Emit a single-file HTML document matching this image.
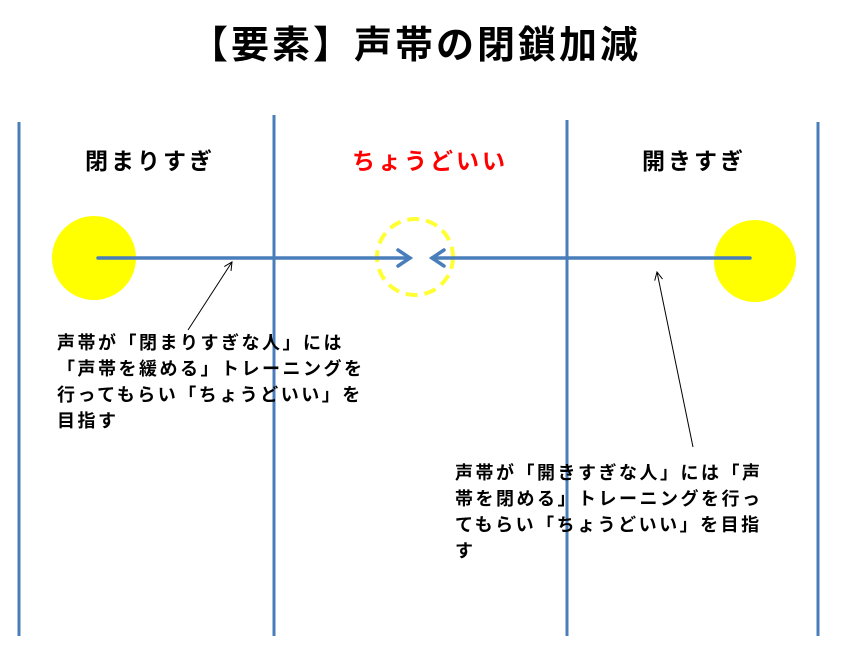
<!DOCTYPE html>
<html><head><meta charset="utf-8"><style>
body{margin:0;width:844px;height:661px;background:#fff;overflow:hidden;position:relative;font-family:"Liberation Sans","Noto Sans CJK JP",sans-serif;font-weight:bold;}
.t{position:absolute;white-space:nowrap;}
</style></head><body>
<svg width="844" height="661" style="position:absolute;left:0;top:0">
<defs>
<marker id="ah" markerWidth="10" markerHeight="10" refX="9" refY="5" orient="auto" markerUnits="userSpaceOnUse"><path d="M1,1 L9,5 L1,9" fill="none" stroke="#000" stroke-width="1"/></marker>
</defs>
<g stroke="#4a7ebb" stroke-width="3">
<line x1="19" y1="122" x2="19" y2="636"/>
<line x1="274" y1="115" x2="274" y2="636"/>
<line x1="567" y1="120" x2="567" y2="636"/>
<line x1="818" y1="122" x2="818" y2="636"/>
</g>
<ellipse cx="94" cy="258" rx="42" ry="42" fill="#ffff00"/>
<ellipse cx="755" cy="261" rx="41" ry="41" fill="#ffff00"/>
<circle cx="415" cy="257" r="38" fill="none" stroke="#ffff33" stroke-width="4" stroke-dasharray="12,7"/>
<g stroke="#4a7ebb" stroke-width="3.5" fill="none" stroke-linecap="round">
<line x1="98" y1="258" x2="410" y2="258"/>
<polyline points="398,250 410,258 398,266"/>
<line x1="432" y1="258" x2="750" y2="258"/>
<polyline points="444,250 432,258 444,266"/>
</g>
<line x1="188" y1="330" x2="232" y2="262" stroke="#000" stroke-width="1" marker-end="url(#ah)"/>
<line x1="693" y1="447" x2="657" y2="272" stroke="#000" stroke-width="1" marker-end="url(#ah)"/>
</svg>
<div class="t" style="left:190px;top:14px;font-size:38px;letter-spacing:3px;">【要素】声帯の閉鎖加減</div>
<div class="t" style="left:85px;top:142px;font-size:23px;letter-spacing:3px;">閉まりすぎ</div>
<div class="t" style="left:352px;top:142px;font-size:23px;letter-spacing:3px;color:#ff0000;">ちょうどいい</div>
<div class="t" style="left:642px;top:142px;font-size:23px;letter-spacing:3px;">開きすぎ</div>
<div class="t" style="left:57px;top:330px;font-size:18px;letter-spacing:2.5px;line-height:26px;">声帯が「閉まりすぎな人」には<br>「声帯を緩める」トレーニングを<br>行ってもらい「ちょうどいい」を<br>目指す</div>
<div class="t" style="left:455px;top:460px;font-size:18px;letter-spacing:2.5px;line-height:26px;">声帯が「開きすぎな人」には「声<br>帯を閉める」トレーニングを行っ<br>てもらい「ちょうどいい」を目指<br>す</div>
</body></html>
